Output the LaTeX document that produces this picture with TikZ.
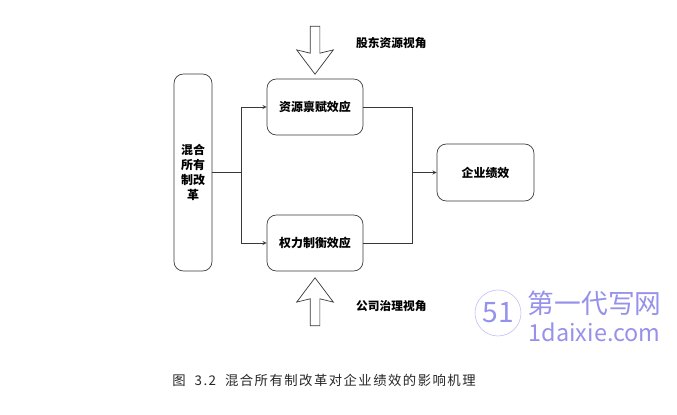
\documentclass[tikz,border=0pt]{standalone}
\usepackage{fontspec}
\setmainfont{Noto Sans CJK SC}
\newfontfamily\capfont[LetterSpace=11]{Noto Sans CJK SC}
\usetikzlibrary{shapes,arrows,positioning,calc}

\definecolor{linegray}{gray}{0.22}
\definecolor{markpurple}{RGB}{150,145,235}

\tikzset{
    effectbox/.style={draw=linegray, line width=0.6pt, rounded corners=8pt, minimum width=2.88cm, minimum height=1.68cm, align=center, font=\fontsize{10.2pt}{12.75pt}\selectfont\bfseries},
    viewarrow/.style={draw=linegray, line width=0.6pt, single arrow, inner xsep=0pt, inner ysep=0.135cm, minimum height=1.44cm, single arrow tip angle=74, single arrow head extend=0.405cm, single arrow head indent=0.1cm},
    viewlabel/.style={font=\fontsize{10pt}{12pt}\selectfont\bfseries},
    link/.style={draw=linegray, line width=0.6pt}
}

\begin{document}
\begin{tikzpicture}
    \useasboundingbox (0,0) rectangle (20.31,12.45);
    \node[effectbox, minimum width=1.14cm, minimum height=5.91cm, inner sep=0pt] (reform) at (5.79,7.275) {混合\\所有\\制改\\革};
    \node[effectbox] (resource) at (9.45,9.24) {资源禀赋效应};
    \node[effectbox] (power) at (9.45,5.16) {权力制衡效应};
    \node[effectbox, minimum width=2.91cm, minimum height=1.71cm] (perf) at (14.565,7.275) {企业绩效};
    \coordinate (split) at (7.23,7.275);
    \coordinate (merge) at (12.36,7.275);
    \draw[link] (reform) -- (split);
    \draw[link, -stealth] (split) |- (resource);
    \draw[link, -stealth] (split) |- (power);
    \draw[link] (resource) -| (merge);
    \draw[link] (power) -| (merge);
    \draw[link, -stealth] (merge) -- (perf);
    % the two perspectives
    \node[viewarrow, rotate=-90] (holder) at (9.45,11.04) {};
    \node[viewarrow, rotate=90] (govern) at (9.45,3.30) {};
    \node[viewlabel] (holdertext) at (11.74,11.16) {股东资源视角};
    \node[viewlabel] (governtext) at (11.74,3.27) {公司治理视角};
    % caption
    \node[font=\capfont\fontsize{11.4pt}{14pt}\selectfont, text=black!85] (caption) at (9.72,1.05) {图\ \ 3.2\ \ 混合所有制改革对企业绩效的影响机理};
    % watermark
    \draw[markpurple!60, line width=0.5pt] (14.94,3.06) circle (0.69);
    \node[text=markpurple, font=\fontsize{24pt}{26pt}\selectfont\itshape] (marklogo) at (14.94,3.06) {51};
    \node[text=markpurple, font=\fontsize{22.8pt}{24pt}\selectfont] (markname) at (17.84,3.36) {第一代写网};
    \node[text=markpurple, font=\fontsize{20pt}{22pt}\selectfont] (markurl) at (17.84,2.49) {1daixie.com};
\end{tikzpicture}
\end{document}
